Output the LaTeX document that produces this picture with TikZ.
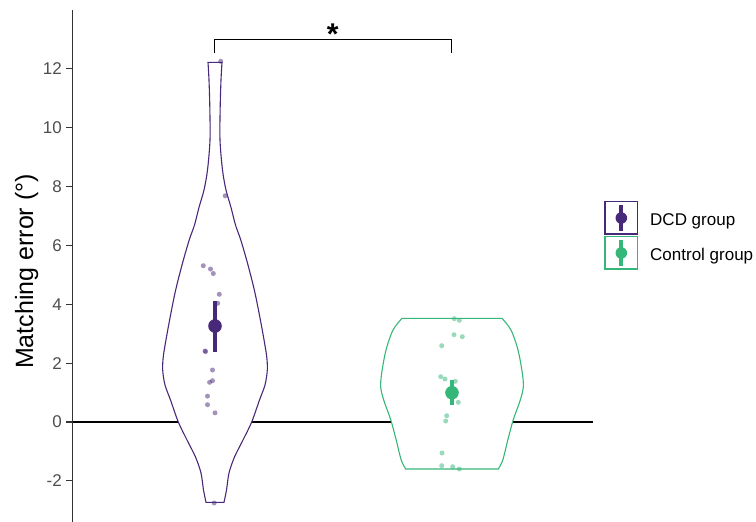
\documentclass[tikz,border=0pt]{standalone}
\usepackage{fontspec}
\setmainfont{Liberation Sans}
\usepackage{tikz}

\definecolor{dcd}{HTML}{482878}
\definecolor{ctrl}{HTML}{35B779}
\definecolor{axisgrey}{HTML}{333333}
\definecolor{ticktext}{HTML}{4D4D4D}

\begin{document}
\begin{tikzpicture}[x=1pt,y=1pt,
  violin/.style={line width=1.1, draw=#1, fill=white},
  jitter/.style={opacity=0.5},
  ticklab/.style={anchor=east, text=ticktext, font=\fontsize{17}{17}\selectfont},
  leglab/.style={anchor=base west, font=\fontsize{17}{17}\selectfont}]
\tikzstyle{every node}+=[inner sep=0pt]
\useasboundingbox (0,0) rectangle (756,-522);
% zero line
\draw [black, line width=1.2] (72.5,-422) -- (593.3,-422);
% DCD violin
\draw [violin=dcd] plot[smooth, tension=0.5] coordinates {(208,-62.3) (209,-80) (209.8,-106.7) (210,-140) (207.5,-170) (204,-190) (199.2,-206.7) (194.5,-225) (189.2,-240) (182,-265) (175,-293) (168.3,-327) (163.5,-355) (162.7,-370) (165,-385) (170.5,-400) (178.3,-422) (187,-440) (195.5,-457) (201,-473) (203.5,-490) (206,-502.3)}
  -- plot[smooth, tension=0.5] coordinates {(224,-502.3) (226.5,-490) (229,-473) (234.5,-457) (243,-440) (251.7,-422) (259.5,-400) (265,-385) (267.3,-370) (266.5,-355) (261.7,-327) (255,-293) (248,-265) (240.8,-240) (235.5,-225) (230.8,-206.7) (226,-190) (222.5,-170) (220,-140) (220.2,-106.7) (221,-80) (222,-62.3)}
  -- cycle;
% control violin
\draw [violin=ctrl] plot[smooth, tension=0.5] coordinates {(402,-318.3) (393,-330) (386,-350) (381.7,-373) (380.7,-387) (383.7,-400) (390.8,-420) (396.2,-440) (401.2,-460) (405.7,-469)}
  -- plot[smooth, tension=0.5] coordinates {(498.3,-469) (502.8,-460) (507.8,-440) (513.2,-420) (520.3,-400) (523.3,-387) (522.3,-373) (518,-350) (511,-330) (502,-318.3)}
  -- cycle;
% jittered points
\foreach \x/\y in {220.7/61.3, 225.2/195.8, 203.3/265.7, 210.5/269, 213.3/273.5, 219.3/294.3, 217.7/303.3, 205/351, 205.6/351.6, 212.5/370, 209.6/382.3, 212.5/380.7, 207.5/396.2, 207.5/404.7, 215/412.8, 214.2/503}
  \fill [dcd, jitter] (\x,-\y) circle (2.5);
\foreach \x/\y in {454.3/318.7, 459.3/320.3, 454/334.7, 462.3/336.7, 441.7/345.7, 440.7/376.7, 445/379, 455.3/381.3, 458.3/402.3, 446.7/415.7, 445.7/421, 442/453, 441.7/465.7, 452.7/466.7, 459.3/469}
  \fill [ctrl, jitter] (\x,-\y) circle (2.5);
% means with error bars
\draw [dcd, line width=3.8] (215,-301) -- (215,-351.7);
\fill [dcd] (215,-326) circle (6.8);
\draw [ctrl, line width=3.8] (452,-380) -- (452,-405);
\fill [ctrl] (452,-392.7) circle (6.8);
% significance bracket
\coordinate (brL) at (214.3,-53.3);
\coordinate (brR) at (451.7,-53.3);
\draw [black, line width=1.3] (brL) -- ++(0,14) -| (brR);
\node [anchor=base, font=\fontsize{30}{30}\bfseries] (star) at (332.7,-44) {*};
% y axis
\draw [axisgrey, line width=1.6] (72.5,-10) -- (72.5,-522);
\foreach \v in {-2,0,2,4,6,8,10,12} {
  \draw [axisgrey, line width=1.1] (66,{-422+29.45*\v}) -- (72.5,{-422+29.45*\v});
  \node [ticklab] (tick\v) at (62,{-422+29.45*\v}) {\v};
}
\node [rotate=90, anchor=base, font=\fontsize{25}{25}\selectfont] (ylab) at (33,-271.5) {Matching error (°)};
% legend
\draw [dcd, line width=1.1] (605,-201.7) rectangle (637.7,-234);
\draw [dcd, line width=3.8] (621.3,-205) -- (621.3,-231);
\fill [dcd] (621.3,-218) circle (5.8);
\node [leglab] (dcdlab) at (650,-225) {DCD group};
\draw [ctrl, line width=1.1] (605,-236.7) rectangle (637.7,-269);
\draw [ctrl, line width=3.8] (621.3,-240) -- (621.3,-266);
\fill [ctrl] (621.3,-253) circle (5.8);
\node [leglab] (ctrllab) at (650,-260) {Control group};
\end{tikzpicture}
\end{document}
